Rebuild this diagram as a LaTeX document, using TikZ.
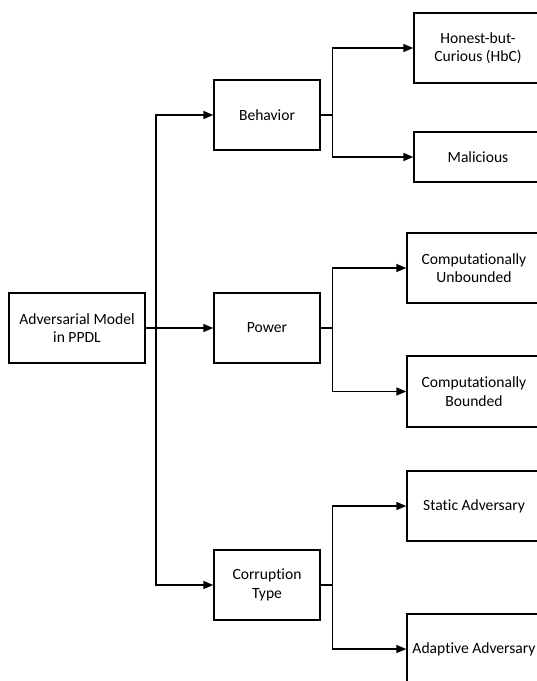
\documentclass[tikz,border=0pt]{standalone}
\usepackage{fontspec}
\setmainfont[Ligatures=NoCommon]{Carlito}
\usetikzlibrary{arrows.meta}
\begin{document}
\begin{tikzpicture}[x=1pt,y=-1pt,
  box/.style={draw,line width=1.4pt,rectangle,align=center,inner sep=0pt,
    font=\fontsize{15.6}{18.6}\selectfont},
  link/.style={line width=1.4pt},
  arr/.style={link,-{Triangle[length=10pt,width=8pt]}}]
\useasboundingbox (0,0) rectangle (537,681);
\clip (0,0) rectangle (537,681);
\node[box,minimum width=136,minimum height=70] (root) at (77,328) {Adversarial Model\\in PPDL};
\node[box,minimum width=106,minimum height=70] (beh) at (267,115) {Behavior};
\node[box,minimum width=106,minimum height=70] (pow) at (267,328) {Power};
\node[box,minimum width=106,minimum height=70] (cor) at (267,585) {Corruption\\Type};
\node[box,minimum width=128,minimum height=70] (hbc) at (478,48) {Honest-but-\\Curious (HbC)};
\node[box,minimum width=128,minimum height=50] (mal) at (478,157) {Malicious};
\node[box,minimum width=134,minimum height=70] (cu) at (474,268) {Computationally\\Unbounded};
\node[box,minimum width=134,minimum height=71] (cb) at (474,391.5) {Computationally\\Bounded};
\node[box,minimum width=134,minimum height=70] (sta) at (474,506) {Static Adversary};
\node[box,minimum width=134,minimum height=70] (ada) at (474,649) {Adaptive Adversary};
\coordinate (t) at (156,328);
\draw[arr] (root.east) -- (pow.west);
\draw[arr] (t) |- (beh.west);
\draw[arr] (t) |- (cor.west);
\draw[arr] (beh.east) -- ++(12,0) |- (hbc.west);
\draw[arr] (beh.east) -- ++(12,0) |- (mal.west);
\draw[arr] (pow.east) -- ++(12,0) |- (cu.west);
\draw[arr] (pow.east) -- ++(12,0) |- (cb.west);
\draw[arr] (cor.east) -- ++(12,0) |- (sta.west);
\draw[arr] (cor.east) -- ++(12,0) |- (ada.west);
\end{tikzpicture}
\end{document}
